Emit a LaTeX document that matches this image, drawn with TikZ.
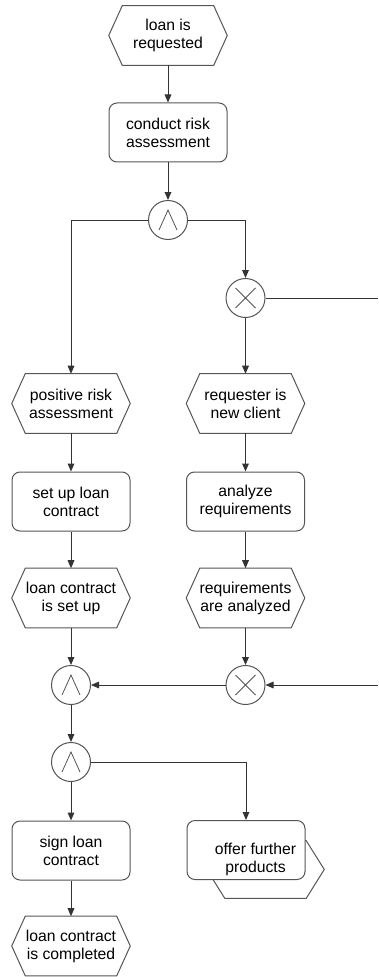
\documentclass[tikz,border=0pt]{standalone}
\usepackage{fontspec}
\setmainfont{Liberation Sans}
\usetikzlibrary{arrows.meta}
\definecolor{linec}{HTML}{333333}
\definecolor{shapec}{HTML}{555555}
\tikzset{
  x=0.75pt, y=-0.75pt,
  every node/.style={font=\fontsize{11.8pt}{13.6pt}\selectfont, align=center, inner sep=0pt},
  fnbox/.style={rectangle, rounded corners=6pt, draw=shapec, line width=0.75pt, fill=white,
    minimum width=88.5pt, minimum height=44.25pt},
  evbox/.style={rectangle, minimum width=88.5pt, minimum height=44.25pt},
  evline/.style={draw=shapec, line width=0.75pt, line join=miter},
  gate/.style={circle, draw=shapec, line width=0.75pt, fill=white, minimum size=29.25pt},
  gsym/.style={draw=shapec, line width=0.6pt},
  flow/.style={draw=linec, line width=0.75pt, -{Triangle[length=6pt,width=5pt]}},
  plain/.style={draw=linec, line width=0.75pt},
}
\begin{document}
\begin{tikzpicture}
\useasboundingbox (0,0) rectangle (378,977);
% events
\node[evbox] (e1) at (168,35.5) {loan is\\requested};
\node[evbox] (e2) at (71,403.5) {positive risk\\assessment};
\node[evbox] (e3) at (245.5,403.5) {requester is\\new client};
\node[evbox] (e4) at (71,598) {loan contract\\is set up};
\node[evbox] (e5) at (245.5,598) {requirements\\are analyzed};
\node[evbox] (e6) at (71,946) {loan contract\\is completed};
\foreach \n in {e1,e2,e3,e4,e5,e6}
  \draw[evline] ([shift={(13.5,0)}]\n.north west) -- ([shift={(-13.5,0)}]\n.north east) -- (\n.east)
    -- ([shift={(-13.5,0)}]\n.south east) -- ([shift={(13.5,0)}]\n.south west) -- (\n.west) -- cycle;
% process interface hexagon behind "offer further products"
\node[evbox, minimum width=87.75pt, minimum height=42.75pt] (e7) at (265.5,869.5) {};
\draw[evline] ([shift={(18,0)}]e7.north west) -- ([shift={(-18,0)}]e7.north east) -- (e7.east)
    -- ([shift={(-18,0)}]e7.south east) -- ([shift={(18,0)}]e7.south west) -- (e7.west) -- cycle;
% functions
\node[fnbox] (f1) at (168,132.5) {conduct risk\\assessment};
\node[fnbox] (f2) at (71,501.5) {set up loan\\contract};
\node[fnbox] (f3) at (245.5,501.5) {analyze\\requirements};
\node[fnbox] (f4) at (71,850.5) {sign loan\\contract};
\node[fnbox] (f5) at (246,850) {};
\node (f5t) at (255.5,859.5) {offer further\\products};
% gateways
\node[gate] (g1) at (168,220) {};
\node[gate] (g2) at (245.5,298) {};
\node[gate] (g3) at (71,685) {};
\node[gate] (g4) at (245.5,685) {};
\node[gate] (g5) at (71,762) {};
\foreach \g in {g1,g3,g5}
  \draw[gsym] ([shift={(-9,10)}]\g.center) -- ([shift={(0,-10)}]\g.center) -- ([shift={(9,10)}]\g.center);
\foreach \g in {g2,g4}
  \draw[gsym] ([shift={(-10,-10)}]\g.center) -- ([shift={(10,10)}]\g.center)
              ([shift={(-10,10)}]\g.center) -- ([shift={(10,-10)}]\g.center);
% free ends at the right edge
\coordinate (rA) at (378,298);
\coordinate (rB) at (378,685);
% connectors
\draw[flow] (e1) -- (f1);
\draw[flow] (f1) -- (g1);
\draw[flow] (g1.west) -| (e2.north);
\draw[flow] (g1.east) -| (g2.north);
\draw[plain] (g2.east) -- (rA);
\draw[flow] (g2) -- (e3);
\draw[flow] (e2) -- (f2);
\draw[flow] (f2) -- (e4);
\draw[flow] (e4) -- (g3);
\draw[flow] (e3) -- (f3);
\draw[flow] (f3) -- (e5);
\draw[flow] (e5) -- (g4);
\draw[flow] (g4) -- (g3);
\draw[flow] (rB) -- (g4.east);
\draw[flow] (g3) -- (g5);
\draw[flow] (g5) -- (f4);
\draw[flow] (g5.east) -| (f5.north);
\draw[flow] (f4) -- (e6);
\end{tikzpicture}
\end{document}
